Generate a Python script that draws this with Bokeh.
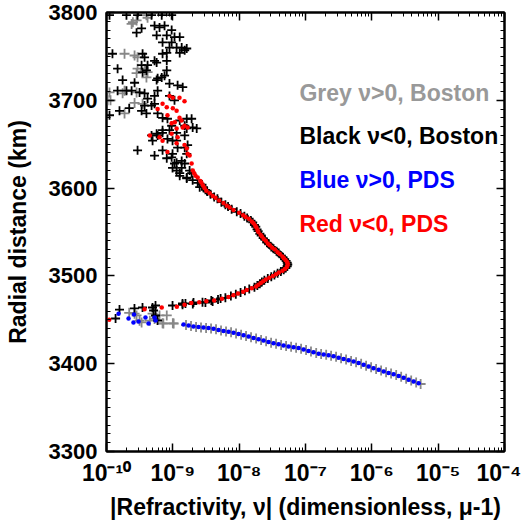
from bokeh.plotting import figure
from bokeh.models import FixedTicker, LogAxis, LinearAxis, Range1d, Label
from bokeh.embed import file_html
from bokeh.resources import INLINE

# ---------------- axes / ticks ----------------
x_ticks = [1e-10, 1e-9, 1e-8, 1e-7, 1e-6, 1e-5, 1e-4]
x_tick_labels = ["10\u207b\u00b9\u2070", "10\u207b\u2079", "10\u207b\u2078", "10\u207b\u2077",
                 "10\u207b\u2076", "10\u207b\u2075", "10\u207b\u2074"]
y_ticks = [3300, 3400, 3500, 3600, 3700, 3800]
y_tick_labels = ["3300", "3400", "3500", "3600", "3700", "3800"]

# ---------------- Grey: nu>0, Boston (crosses) ----------------
grey_x = [4.16e-10, 2.5e-10, 2.84e-10, 2.39e-10, 4.0e-10, 1.87e-10, 2.65e-10, 2.94e-10, 1.11e-10, 1.04e-10,
          1.15e-10, 2.94e-10, 2.84e-10, 1.87e-10, 2.84e-10, 2.65e-10, 1.87e-10, 4.0e-10, 4.16e-10, 3.75e-10,
          1.75e-10, 3.5e-10,
          2.2e-10, 2.65e-10, 3.38e-10, 3.15e-10, 4.5e-10, 4.95e-10, 5.3e-10, 6.3e-10, 7.0e-10, 8.1e-10,
          1.0e-9, 2.84e-10,
          7.2e-10, 1.03e-9, 1.58e-9, 1.88e-9, 2.24e-9, 2.66e-9, 3.17e-9, 3.77e-9, 4.48e-9, 5.33e-9,
          6.34e-9, 7.55e-9, 8.98e-9, 1.07e-8, 1.27e-8, 1.51e-8, 1.80e-8, 2.14e-8, 2.55e-8, 3.03e-8,
          3.60e-8, 4.29e-8, 5.10e-8, 6.07e-8, 7.22e-8, 8.58e-8, 1.02e-7, 1.21e-7, 1.45e-7, 1.72e-7,
          2.05e-7, 2.43e-7, 2.89e-7, 3.44e-7, 4.09e-7, 4.87e-7, 5.79e-7, 6.90e-7, 8.20e-7, 9.76e-7,
          1.16e-6, 1.38e-6, 1.64e-6, 1.95e-6, 2.33e-6, 2.77e-6, 3.29e-6, 3.92e-6, 4.66e-6, 5.44e-6]
grey_y = [3794, 3789, 3791, 3787, 3797, 3753, 3751, 3749, 3709, 3700,
          3700, 3736, 3731, 3711, 3709, 3697, 3685, 3726, 3732, 3734,
          3708, 3696,
          3458, 3457, 3447, 3449, 3449, 3457, 3451, 3455, 3446, 3455,
          3446, 3455,
          3445.8, 3445.8, 3444.0, 3442.8, 3441.9, 3441.3, 3440.8, 3440.2, 3439.1, 3437.8,
          3436.8, 3435.8, 3434.5, 3433.1, 3431.6, 3430.1, 3428.6, 3427.1, 3425.5, 3424.0,
          3422.8, 3421.4, 3420.2, 3419.2, 3418.2, 3417.1, 3415.5, 3413.8, 3412.2, 3411.0,
          3410.1, 3409.1, 3407.8, 3406.2, 3404.7, 3403.2, 3401.7, 3399.9, 3397.8, 3395.9,
          3394.0, 3392.2, 3390.4, 3388.7, 3387.0, 3385.1, 3382.9, 3380.8, 3378.7, 3376.9]

# ---------------- Black: nu<0, Boston (crosses) ----------------
black_x = [1.11e-10, 2.0e-10, 2.94e-10, 4.78e-10, 6.8e-10, 9.6e-10, 6.3e-10, 5.3e-10, 7.5e-10, 2.84e-10,
           3.38e-10, 5.7e-10, 8.1e-10, 9.6e-10, 7.0e-10, 9.6e-10, 1.06e-9, 1.27e-9, 8.9e-10, 1.14e-9,
           1.36e-9, 1.51e-9, 1.62e-9, 8.1e-10, 1.27e-9, 7.0e-10, 5.7e-10, 5.3e-10, 1.23e-10, 3.5e-10,
           3.75e-10, 1.47e-10, 3.38e-10, 4.16e-10, 4.0e-10, 3.5e-10, 8.1e-10, 8.1e-10, 7.5e-10, 5.9e-10,
           6.8e-10, 5.7e-10, 1.75e-10, 2.65e-10, 8.9e-10, 1.18e-9, 1.41e-9, 1.47e-10, 2.0e-10, 2.39e-10,
           3.15e-10, 3.75e-10, 4.16e-10, 5.3e-10, 5.9e-10, 8.9e-10, 1.06e-9, 3.75e-10, 4.78e-10, 5.3e-10,
           3.38e-10, 1.57e-10, 2.2e-10, 4.0e-10, 5.9e-10, 7.0e-10, 8.3e-10, 9.6e-10, 1.27e-9, 1.51e-9,
           1.92e-9, 1.11e-10, 1.62e-9, 2.29e-9, 2.94e-10, 5.3e-10, 4.78e-10, 7.0e-10, 9.6e-10, 1.14e-9,
           1.36e-9, 1.62e-9, 1.99e-9, 1.62e-9, 1.14e-9, 1.51e-9, 9.9e-10, 1.27e-9, 1.62e-9, 1.92e-9,
           2.37e-9, 2.54e-9, 8.9e-10, 7.0e-10, 5.7e-10, 1.14e-9, 8.1e-10, 4.95e-10, 5.9e-10, 7.0e-10,
           1.51e-9, 1.67e-9, 1.18e-9, 9.9e-10, 1.06e-9, 1.36e-9, 1.14e-9, 1.27e-9, 1.62e-9, 1.99e-9,
           1.51e-9, 1.79e-9, 9.9e-10, 8.3e-10,
           2.75e-9, 2.9e-9, 3.1e-9, 3.3e-9, 3.7e-9, 4.2e-9, 4.7e-9, 5.4e-9, 6.2e-9, 6.8e-9,
           7.7e-9, 9.2e-9, 1.05e-8, 1.2e-8, 1.32e-8, 1.5e-8, 1.6e-8, 1.7e-8, 1.78e-8, 1.86e-8,
           1.93e-8, 2.05e-8, 2.15e-8, 2.3e-8, 2.45e-8, 2.62e-8, 2.8e-8, 3.05e-8, 3.3e-8, 3.65e-8,
           3.95e-8, 4.3e-8, 4.6e-8, 4.85e-8, 5.1e-8, 5.3e-8, 5.4e-8, 5.3e-8, 5.05e-8, 4.7e-8,
           4.25e-8, 3.8e-8, 3.4e-8, 3.05e-8, 2.7e-8, 2.4e-8, 2.2e-8, 2.05e-8, 1.88e-8, 1.7e-8,
           1.42e-8, 1.22e-8, 1.05e-8, 8.9e-9, 7.5e-9, 6.2e-9, 4.8e-9, 3.8e-9, 2.8e-9, 2.0e-9,
           1.4e-9,
           1.37e-10, 1.57e-10, 2.64e-10, 3.49e-10, 4.94e-10, 5.48e-10, 5.12e-10, 5.48e-10, 5.88e-10, 9.9e-10,
           1.4e-9, 1.55e-9, 2.05e-9, 3.1e-9, 3.98e-9, 5.25e-9]
black_y = [3797, 3797, 3797, 3797, 3797, 3797, 3783, 3785, 3785, 3777,
           3782, 3774, 3774, 3780, 3766, 3766, 3772, 3772, 3760, 3760,
           3760, 3757, 3759, 3754, 3754, 3753, 3743, 3745, 3753, 3753,
           3749, 3736, 3740, 3740, 3734, 3732, 3745, 3734, 3728, 3725,
           3726, 3723, 3723, 3720, 3719, 3717, 3715, 3711, 3711, 3711,
           3709, 3708, 3702, 3705, 3711, 3705, 3700, 3694, 3694, 3696,
           3688, 3688, 3691, 3685, 3685, 3680, 3679, 3671, 3677, 3671,
           3679, 3683, 3668, 3668, 3643, 3637, 3660, 3643, 3635, 3629,
           3631, 3639, 3669, 3679, 3654, 3646, 3623, 3617, 3612, 3617,
           3606, 3601, 3666, 3663, 3662, 3663, 3634, 3654, 3660, 3666,
           3660, 3649, 3646, 3639, 3628, 3623, 3620, 3614, 3611, 3609,
           3628, 3620, 3654, 3656,
           3604, 3601, 3598, 3596, 3593, 3590, 3588, 3584, 3581, 3579,
           3576, 3573, 3571, 3568, 3566, 3563, 3561, 3558, 3556, 3553,
           3551, 3548, 3546, 3543, 3541, 3538, 3536, 3533, 3531, 3528,
           3526, 3523, 3521, 3519, 3517, 3515, 3513, 3511, 3509, 3507,
           3505, 3503, 3501, 3499, 3497, 3495, 3493, 3491, 3489, 3487,
           3485, 3483, 3481, 3479, 3477, 3475, 3473, 3472, 3470, 3468,
           3467,
           3451.5, 3461.7, 3462.9, 3464, 3464, 3466.3, 3460.6, 3454.9, 3449.2, 3466.3,
           3468.6, 3468.6, 3469.7, 3469.7, 3470.8, 3474.3]

# ---------------- Blue: nu>0, PDS (dots) ----------------
blue_x = [1.52e-10, 2.15e-10, 2.55e-10, 3.04e-10, 3.87e-10, 4.3e-10, 5.3e-10, 5.5e-10, 2.6e-10,
          1.45e-9, 1.73e-9, 2.05e-9, 2.44e-9, 2.90e-9, 3.45e-9, 4.11e-9, 4.89e-9, 5.82e-9, 6.92e-9,
          8.24e-9, 9.80e-9, 1.165e-8, 1.39e-8, 1.65e-8, 1.96e-8, 2.33e-8, 2.77e-8, 3.30e-8, 3.93e-8,
          4.67e-8, 5.56e-8, 6.62e-8, 7.87e-8, 9.36e-8, 1.11e-7, 1.32e-7, 1.58e-7, 1.88e-7, 2.23e-7,
          2.65e-7, 3.16e-7, 3.76e-7, 4.47e-7, 5.31e-7, 6.32e-7, 7.52e-7, 8.95e-7, 1.06e-6, 1.27e-6,
          1.51e-6, 1.79e-6, 2.13e-6, 2.54e-6, 3.02e-6, 3.59e-6, 4.27e-6, 5.08e-6]
blue_y = [3457, 3451.5, 3447, 3448, 3452.6, 3445.8, 3452.6, 3449.2, 3456,
          3444.6, 3443.4, 3442.3, 3441.7, 3441.1, 3440.6, 3439.8, 3438.4, 3437.3, 3436.3,
          3435.2, 3433.8, 3432.4, 3430.9, 3429.3, 3427.8, 3426.3, 3424.7, 3423.4, 3422.1,
          3420.7, 3419.7, 3418.7, 3417.8, 3416.3, 3414.6, 3413.0, 3411.4, 3410.6, 3409.7,
          3408.4, 3406.9, 3405.4, 3403.9, 3402.5, 3400.9, 3398.9, 3396.8, 3394.9, 3393.1,
          3391.2, 3389.5, 3387.9, 3386.1, 3383.9, 3381.8, 3379.7, 3377.8]

# ---------------- Red: nu<0, PDS (dots) ----------------
red_x = [8.9e-10, 1.0e-9, 1.26e-9, 1.5e-9, 7.0e-10, 8.1e-10, 1.0e-9, 1.14e-9, 5.9e-10, 8.3e-10,
         1.26e-9, 1.35e-9, 1.07e-9, 1.5e-9, 1.67e-9, 1.41e-9, 9.6e-10, 1.14e-9, 9.6e-10, 1.18e-9,
         4.5e-10, 6.3e-10, 7.0e-10, 1.14e-9, 1.5e-9, 1.62e-9, 8.3e-10, 1.67e-9, 1.79e-9, 1.92e-9,
         2.0e-9, 2.1e-9, 2.2e-9, 2.37e-9,
         2.6e-9, 2.7e-9, 2.85e-9, 3.0e-9, 3.2e-9, 3.6e-9, 4.0e-9, 4.4e-9, 5.0e-9, 5.8e-9,
         6.5e-9, 7.2e-9, 8.2e-9, 1.0e-8, 1.15e-8, 1.25e-8, 1.4e-8, 1.55e-8, 1.65e-8, 1.75e-8,
         1.82e-8, 1.9e-8, 1.95e-8, 2.1e-8, 2.2e-8, 2.35e-8, 2.52e-8, 2.7e-8, 2.89e-8, 3.15e-8,
         3.46e-8, 3.8e-8, 4.1e-8, 4.5e-8, 4.72e-8, 5.0e-8, 5.24e-8, 5.4e-8, 5.35e-8, 5.24e-8,
         4.9e-8, 4.5e-8, 3.98e-8, 3.6e-8, 3.23e-8, 2.85e-8, 2.52e-8, 2.3e-8, 2.12e-8, 1.95e-8,
         1.8e-8, 1.55e-8, 1.3e-8, 1.15e-8, 9.6e-9, 8.2e-9, 6.9e-9, 5.5e-9, 4.2e-9, 3.2e-9,
         2.5e-9, 1.9e-9, 1.5e-9, 1.15e-9, 6.8e-10, 3.75e-10, 1.1e-10]
red_y = [3705, 3703, 3703, 3699, 3696, 3692, 3691, 3688, 3690, 3683,
         3680, 3677, 3675, 3671, 3669, 3669, 3674, 3668, 3662, 3658,
         3660, 3658, 3654, 3651, 3649, 3645, 3641, 3639, 3637, 3628,
         3620, 3617, 3614, 3612,
         3608, 3606, 3603, 3600, 3597, 3594, 3591, 3589, 3586, 3583,
         3580, 3578, 3575, 3572, 3569, 3567, 3565, 3562, 3560, 3557,
         3555, 3552, 3550, 3547, 3545, 3542, 3540, 3537, 3535, 3532,
         3530, 3527, 3525, 3522, 3520, 3518, 3516, 3514, 3512, 3510,
         3508, 3506, 3504, 3502, 3500, 3498, 3496, 3494, 3492, 3490,
         3488, 3486, 3484, 3482, 3480, 3478, 3476, 3474, 3472, 3471,
         3470, 3469, 3467, 3465, 3464, 3462, 3450]

legend_texts = ["Grey \u03bd>0, Boston", "Black \u03bd<0, Boston", "Blue \u03bd>0, PDS", "Red \u03bd<0, PDS"]
legend_colors = ["#999999", "#000000", "#0000ff", "#ff0000"]

# ---------------- figure ----------------
FONT = "Liberation Sans"
p = figure(width=521, height=523, x_axis_type="log",
           x_range=Range1d(1e-10, 1e-4), y_range=Range1d(3300, 3800),
           output_backend="svg", toolbar_location=None,
           min_border_left=106, min_border_right=17, min_border_top=12, min_border_bottom=72)
p.grid.visible = False
p.outline_line_color = "black"
p.outline_line_width = 2
p.background_fill_color = "white"
p.border_fill_color = "white"

x_minor = [m * 10.0 ** k for k in range(-10, -4) for m in range(2, 10)]
y_minor = list(range(3300, 3801, 10))


def style_axis(ax):
    ax.axis_line_width = 2
    ax.axis_line_color = "black"
    ax.major_tick_in = 8
    ax.major_tick_out = 0
    ax.minor_tick_in = 4
    ax.minor_tick_out = 0
    ax.major_tick_line_width = 1.5
    ax.minor_tick_line_width = 1
    ax.major_tick_line_color = "black"
    ax.minor_tick_line_color = "black"
    ax.major_label_text_font = FONT
    ax.major_label_text_font_style = "bold"
    ax.major_label_text_color = "black"
    ax.major_label_text_font_size = "22px"
    ax.axis_label_text_color = "black"
    ax.axis_label_text_font = FONT
    ax.axis_label_text_font_style = "bold"


xt = FixedTicker(ticks=x_ticks, minor_ticks=x_minor)
yt = FixedTicker(ticks=y_ticks, minor_ticks=y_minor)

xa = p.xaxis[0]
xa.ticker = xt
xa.major_label_overrides = dict(zip(x_ticks, x_tick_labels))
style_axis(xa)
xa.major_label_text_font_size = "23px"
xa.major_label_standoff = 8
xa.axis_label = "|Refractivity, \u03bd| (dimensionless, \u03bc-1)"
xa.axis_label_text_font_size = "23px"
xa.axis_label_standoff = 5

ya = p.yaxis[0]
ya.ticker = yt
ya.major_label_overrides = dict(zip(y_ticks, y_tick_labels))
style_axis(ya)
ya.major_label_standoff = 9
ya.axis_label = "Radial distance (km)"
ya.axis_label_text_font_size = "23px"
ya.axis_label_standoff = 15

top = LogAxis(ticker=xt)
style_axis(top)
top.major_label_text_font_size = "2px"
top.major_label_text_alpha = 0
top.major_label_standoff = 0
p.add_layout(top, "above")

right = LinearAxis(ticker=yt)
style_axis(right)
right.major_label_text_font_size = "2px"
right.major_label_text_alpha = 0
right.major_label_standoff = 0
p.add_layout(right, "right")

# ---------------- data ----------------
p.scatter(grey_x, grey_y, marker="cross", size=10, line_width=1.8, line_color="#888888")
p.scatter(black_x, black_y, marker="cross", size=9, line_width=1.8, line_color="black")
p.scatter(blue_x, blue_y, marker="circle", size=4.5, fill_color="#0000ff", line_color=None)
p.scatter(red_x, red_y, marker="circle", size=4.5, fill_color="#ff0000", line_color=None)

# ---------------- text legend ----------------
legend_y = [3708, 3659, 3609, 3559]
for t, c, yy in zip(legend_texts, legend_colors, legend_y):
    p.add_layout(Label(x=8.1e-8, y=yy, text=t, text_color=c, text_font=FONT,
                       text_font_style="bold", text_font_size="23px",
                       text_baseline="middle", text_align="left"))

open("out.html", "w").write(file_html(p, INLINE))
